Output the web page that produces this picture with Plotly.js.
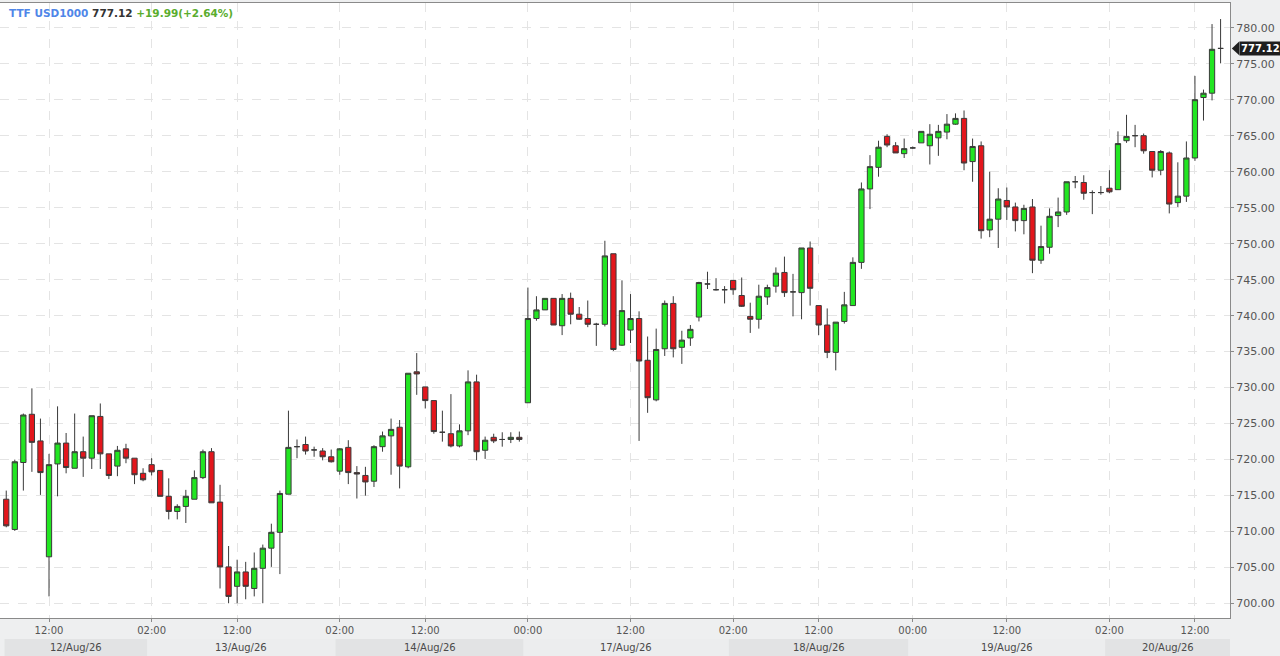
<!DOCTYPE html>
<html>
<head>
<meta charset="utf-8">
<script src="https://cdn.plot.ly/plotly-3.0.1.min.js"></script>
<style>html,body{margin:0;padding:0;background:#eeeff0;}#chart{width:1280px;height:656px;}</style>
</head>
<body>
<div id="chart"></div>
<script>
// ---- data (hourly candles, gaps removed; x is candle index) ----
var opens  = [714.5,710.3,719.6,726.3,722.6,706.5,719.4,722.3,718.8,721.1,720.2,726.0,720.8,719.1,721.5,720.2,718.1,
 719.3,718.5,714.9,712.8,713.5,714.5,717.5,721.1,714.1,705.1,702.4,704.4,702.1,704.9,707.7,709.9,715.2,721.8,722.1,721.35,721.2,720.4,
 718.4,721.7,718.2,717.8,717.0,721.8,723.3,724.5,719.0,732.2,730.1,728.2,723.8,723.6,721.9,724.0,730.8,721.3,723.1,722.8,722.8,723.1,
 727.9,739.6,740.8,742.4,738.6,742.4,740.2,739.6,738.8,738.8,748.6,735.9,738.0,739.6,733.8,728.3,735.4,741.7,735.6,736.9,739.8,744.4,743.6,743.6,
 744.9,742.8,739.9,739.5,742.6,744.1,746.0,743.3,743.2,749.4,741.4,738.7,734.9,739.2,741.4,747.4,757.6,760.6,764.9,763.6,762.5,
 763.3,764.0,763.6,764.7,765.5,766.6,767.4,761.4,763.6,751.9,753.4,756.0,755.1,753.2,755.1,747.7,749.5,753.9,754.4,758.6,758.5,757.1,757.1,
 757.7,757.5,764.3,765.0,765.0,762.8,760.2,762.6,755.7,756.6,761.9,770.3,770.9,777.12];
var highs  = [715.7,720.0,726.4,729.9,725.7,720.8,727.4,723.7,726.4,723.2,726.1,727.8,720.8,721.9,722.2,720.2,718.8,
 720.2,718.5,717.4,713.8,715.8,718.5,721.4,721.6,716.5,708.0,706.1,705.8,707.1,708.2,711.1,715.7,726.8,722.8,723.2,721.8,721.6,721.4,
 721.6,722.7,719.1,719.0,722.0,723.9,725.7,725.5,732.0,734.8,730.1,728.2,726.8,729.1,724.9,732.4,731.8,723.2,723.6,723.8,723.8,723.9,
 743.9,742.7,742.4,742.4,743.0,743.2,741.2,742.1,739.0,750.4,748.6,744.9,743.0,740.6,737.1,738.2,742.1,742.7,737.9,738.7,744.7,746.1,745.2,744.1,
 744.9,745.3,741.8,744.3,744.3,746.7,748.2,745.8,749.4,750.3,741.4,741.0,739.1,743.3,748.1,758.5,762.3,764.3,765.2,764.1,764.6,
 763.5,765.6,766.6,766.5,768.0,768.1,768.5,764.6,764.2,760.0,757.7,757.8,755.7,755.4,756.2,752.5,754.9,756.4,758.6,759.4,759.5,757.4,758.0,
 760.2,765.6,767.9,766.5,765.3,762.8,763.0,762.8,761.3,764.2,773.3,771.4,780.5,781.2];
var lows   = [710.6,710.1,715.7,718.3,715.1,701.0,714.9,718.1,718.8,717.6,718.7,718.7,717.3,717.7,719.5,716.6,717.0,
 717.8,714.9,711.7,711.7,711.2,714.5,717.3,714.0,702.1,700.05,700.05,700.6,701.0,700.05,705.1,704.1,715.2,720.2,720.7,720.4,719.9,719.6,
 717.9,716.6,714.6,715.0,716.2,721.1,717.9,716.0,718.8,729.0,727.1,723.6,722.5,721.7,721.7,723.4,719.9,720.1,722.3,721.8,722.3,722.5,
 727.9,739.3,740.8,738.7,737.3,738.8,739.4,738.4,735.8,738.5,735.1,735.8,736.2,722.6,726.5,728.1,734.4,734.2,733.3,735.8,739.2,743.7,743.5,741.7,
 742.9,741.2,737.6,738.2,741.5,743.2,742.6,739.9,739.5,741.4,737.3,734.1,732.4,738.9,741.4,746.5,754.8,759.3,763.4,762.6,761.9,
 763.2,764.0,761.0,762.2,764.5,766.5,760.2,758.6,750.7,750.9,749.4,753.3,751.7,751.3,745.9,747.2,748.6,752.3,754.0,757.7,756.1,754.1,756.8,
 757.0,757.5,764.0,763.4,762.5,759.2,759.5,754.2,755.1,755.8,761.5,767.1,769.9,775.05];
var closes = [710.8,719.7,726.2,722.4,718.2,719.3,722.3,718.9,721.1,720.2,726.1,720.8,717.8,721.3,720.2,717.9,717.2,
 718.3,714.9,712.8,713.5,714.9,717.5,721.1,714.0,705.1,701.0,704.4,702.4,704.9,707.7,709.9,715.3,721.7,721.8,721.2,721.35,720.4,719.7,
 721.5,718.2,718.0,716.9,721.8,723.3,724.2,719.1,732.0,731.9,728.2,723.9,723.8,721.9,724.0,730.8,721.1,722.7,722.6,722.8,723.1,722.8,
 739.6,740.8,742.4,738.7,742.4,740.2,739.5,738.8,738.8,748.3,735.3,740.7,739.6,733.7,728.6,735.3,741.7,735.4,736.6,738.1,744.6,744.4,743.6,743.6,
 743.6,741.3,739.5,742.7,743.9,745.9,743.2,743.3,749.4,743.8,738.7,734.9,739.1,741.5,747.4,757.6,760.7,763.4,763.7,762.6,763.2,
 763.3,765.6,765.2,765.6,766.6,767.4,761.2,763.5,751.8,753.4,756.2,755.1,753.2,754.9,747.7,749.6,753.8,754.4,758.6,758.6,757.0,757.1,757.1,
 757.2,763.9,764.9,765.0,762.9,760.2,762.8,755.5,756.6,761.9,770.0,770.9,777.0,777.12];

var tickIdx   = [5, 17, 27, 39, 49, 61, 73, 85, 95, 106, 117, 129, 139];
var tickText  = ["12:00","02:00","12:00","02:00","12:00","00:00","12:00","02:00","12:00","00:00","12:00","02:00","12:00"];
var dayLabels = ["12/Aug/26","13/Aug/26","14/Aug/26","17/Aug/26","18/Aug/26","19/Aug/26","20/Aug/26"];
var dayStart  = [0, 17, 39, 61, 85, 106, 129];
var symbol = "TTF USD1000";
var lastPrice = 777.12;
var change = "+19.99";
var changePct = "+2.64%";

var xs = closes.map(function(_, i){ return i; });
var xMax = 143.1;

var trace = {
  type: 'candlestick',
  x: xs, open: opens, high: highs, low: lows, close: closes,
  increasing: {line: {color: '#3a3a3a', width: 1}, fillcolor: '#22e622'},
  decreasing: {line: {color: '#3a3a3a', width: 1}, fillcolor: '#e3161c'},
  whiskerwidth: 0,
  hoverinfo: 'none',
  showlegend: false
};

var shapes = [];
var annotations = [];
var bandColors = ['#e2e3e4', '#ecedee'];
for (var d = 0; d < dayLabels.length; d++) {
  var x0 = d === 0 ? -0.2 : dayStart[d] - 0.5;
  var x1 = d === dayLabels.length - 1 ? xMax : dayStart[d + 1] - 0.5;
  shapes.push({type: 'rect', xref: 'x', yref: 'paper', x0: x0, x1: x1, y0: -0.062, y1: -0.034,
    fillcolor: bandColors[d % 2], line: {width: 0}, layer: 'below'});
  annotations.push({xref: 'x', yref: 'paper', x: (x0 + x1) / 2, y: -0.048, text: dayLabels[d],
    showarrow: false, font: {family: 'DejaVu Sans', size: 10, color: '#4a4a4a'}, yanchor: 'middle'});
}
// last price marker on the right axis
var lastClose = closes[closes.length - 1];
shapes.push({type: 'path', xref: 'paper', yref: 'y',
  path: 'M 1.0015 ' + lastClose + ' L 1.0075 ' + (lastClose + 0.95) + ' L 1.0075 ' + (lastClose - 0.95) + ' Z',
  fillcolor: '#1e1e1e', line: {width: 0}});
annotations.push({xref: 'paper', yref: 'y', x: 1.0075, y: lastClose, xanchor: 'left', yanchor: 'middle',
  text: '<b>' + lastClose.toFixed(2) + '</b>', showarrow: false, bgcolor: '#1e1e1e', borderpad: 1,
  font: {family: 'DejaVu Sans', size: 10, color: '#ffffff'}});
// header
annotations.push({xref: 'paper', yref: 'paper', x: 0.0055, y: 0.984, xanchor: 'left', yanchor: 'middle', showarrow: false,
  text: '<b><span style="color:#4f86e8">' + symbol + '</span> <span style="color:#333333">' + lastPrice.toFixed(2) +
        '</span> <span style="color:#5aad2e">' + change + '(' + changePct + ')</span></b>',
  font: {family: 'DejaVu Sans', size: 10.5}});

var layout = {
  width: 1280, height: 656,
  margin: {l: 0, r: 50, t: 3, b: 38, pad: 0},
  paper_bgcolor: '#eeeff0',
  plot_bgcolor: '#ffffff',
  font: {family: 'DejaVu Sans', size: 10, color: '#555555'},
  boxgap: 0.12,
  xaxis: {
    type: 'linear', range: [-0.73, xMax], rangeslider: {visible: false},
    tickmode: 'array', tickvals: tickIdx, ticktext: tickText,
    showgrid: true, gridcolor: '#e4e4e4', griddash: 'dash', gridwidth: 1,
    showline: true, linecolor: '#8a8a8a', linewidth: 1, mirror: true,
    ticks: 'outside', ticklen: 3, tickcolor: '#8a8a8a',
    tickfont: {family: 'DejaVu Sans', size: 10, color: '#555555'},
    zeroline: false, fixedrange: true
  },
  yaxis: {
    side: 'right', range: [698.0, 783.43], dtick: 5, tick0: 700, tickformat: '.2f',
    showgrid: true, gridcolor: '#e4e4e4', griddash: 'dash', gridwidth: 1,
    showline: true, linecolor: '#8a8a8a', linewidth: 1,
    ticks: 'outside', ticklen: 3, tickcolor: '#8a8a8a',
    tickfont: {family: 'DejaVu Sans', size: 11, color: '#555555'},
    zeroline: false, fixedrange: true
  },
  shapes: shapes,
  annotations: annotations,
  showlegend: false,
  dragmode: false
};

Plotly.newPlot('chart', [trace], layout, {displayModeBar: false, staticPlot: true});
</script>
</body>
</html>
